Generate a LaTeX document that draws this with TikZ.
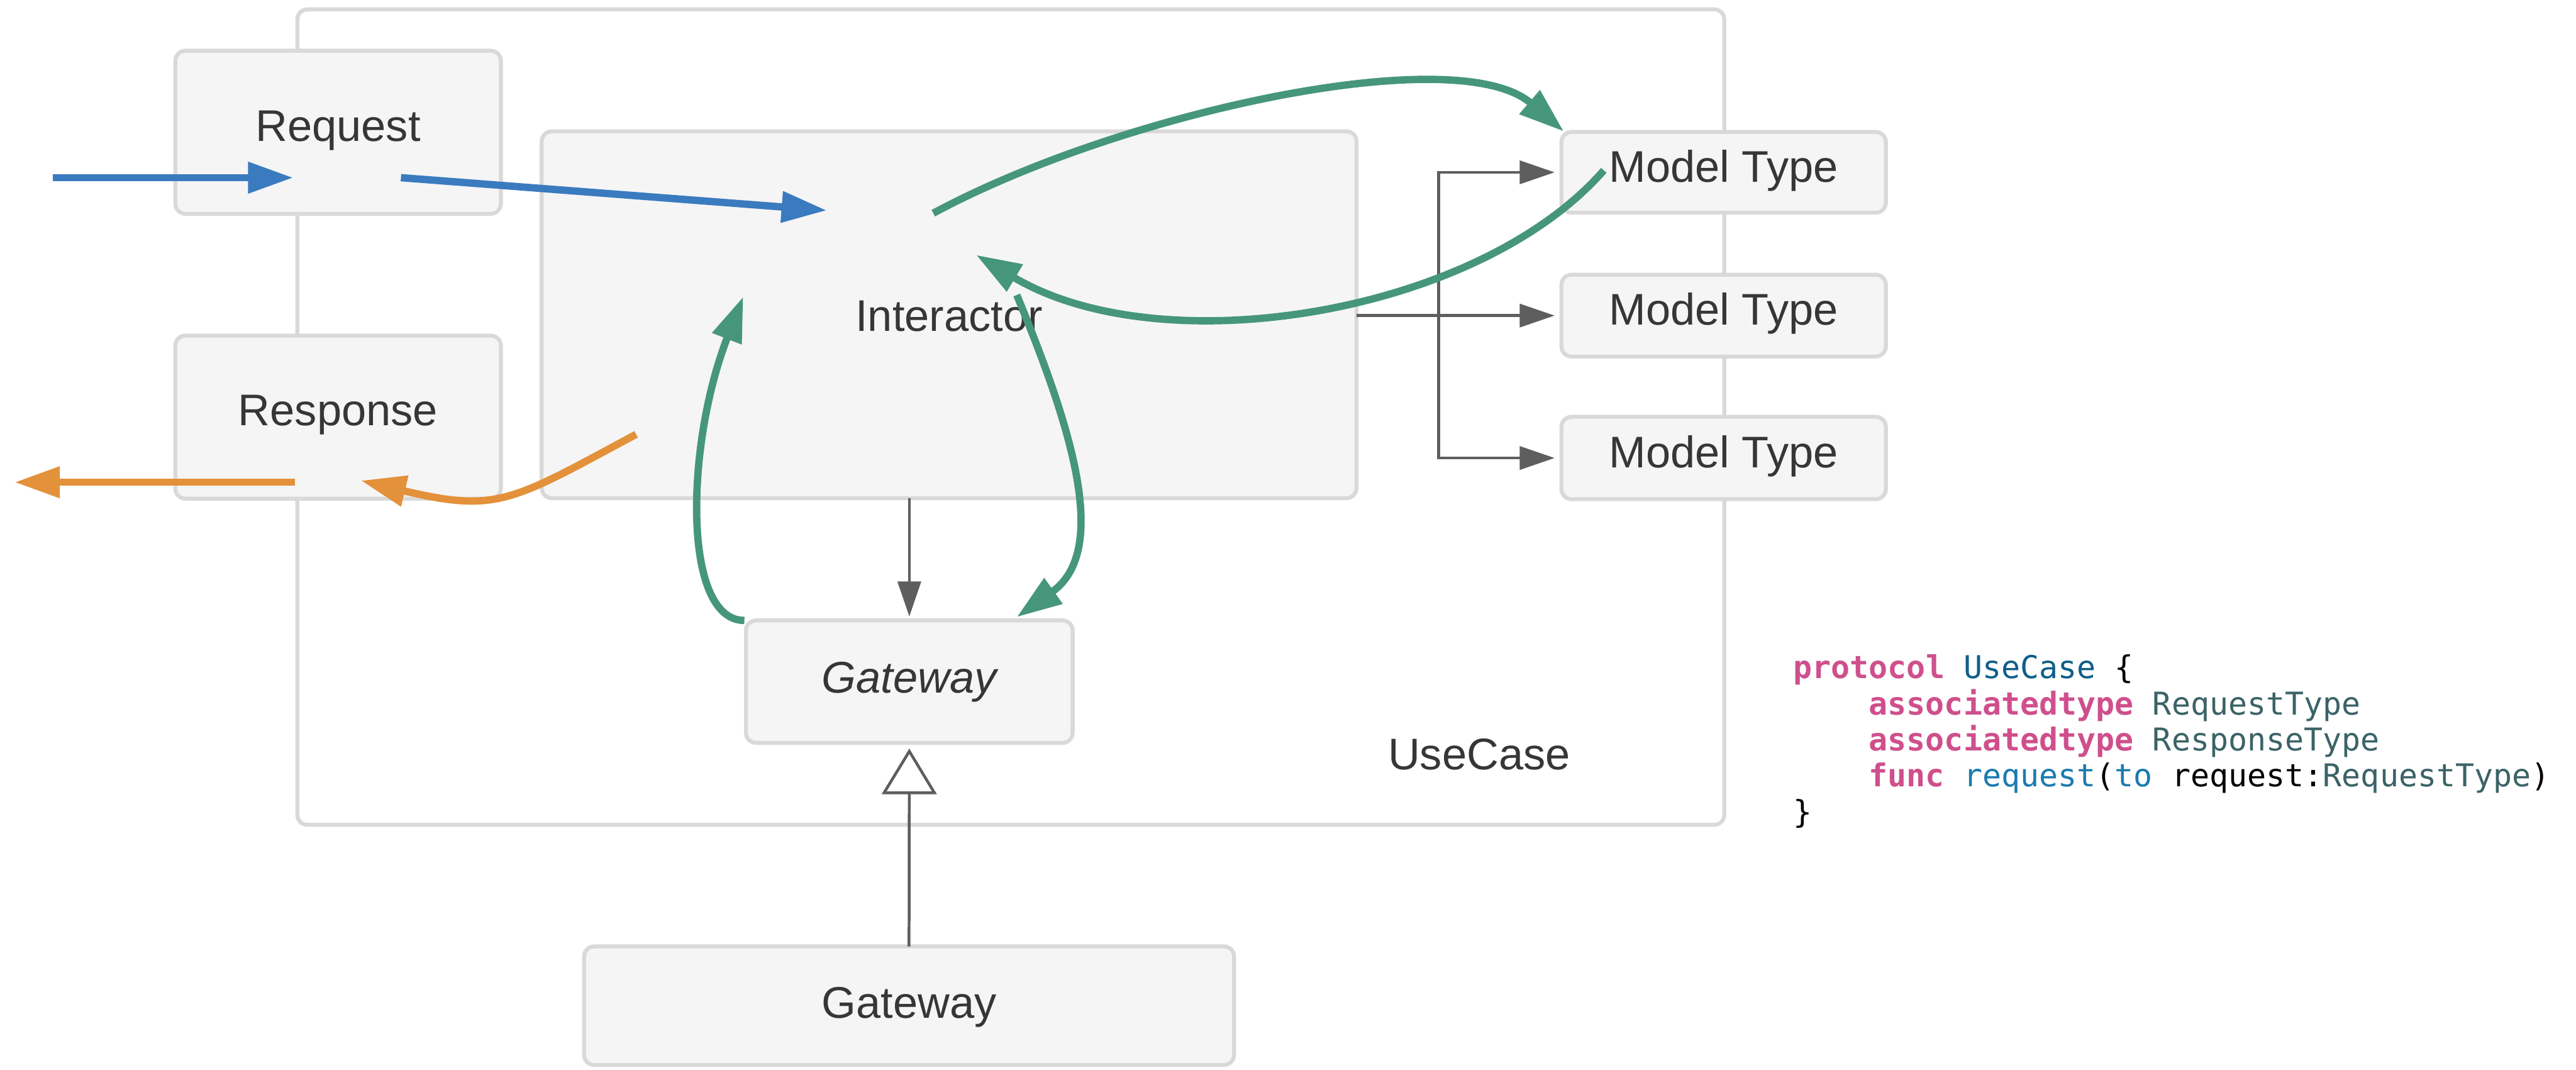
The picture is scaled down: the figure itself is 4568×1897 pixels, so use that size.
\documentclass[tikz,border=0pt]{standalone}
\usepackage{fontspec}
\setmainfont{Liberation Sans}
\newfontfamily\codefont{DejaVu Sans Mono}
\usetikzlibrary{arrows.meta}

\definecolor{boxfill}{HTML}{F5F5F5}
\definecolor{boxline}{HTML}{D9D9D9}
\definecolor{txt}{HTML}{363636}
\definecolor{flowblue}{HTML}{3A7BBF}
\definecolor{floworange}{HTML}{E3913A}
\definecolor{flowgreen}{HTML}{46967C}
\definecolor{linkgray}{HTML}{5E5E5E}
\definecolor{kwpink}{HTML}{CF4F8C}
\definecolor{protoblue}{HTML}{0F5E8A}
\definecolor{typeteal}{HTML}{3B6367}
\definecolor{funcblue}{HTML}{1B7BB0}

\begin{document}
\begin{tikzpicture}[
  x=0.01cm, y=-0.01cm,
  box/.style={draw=boxline, line width=0.07cm, fill=boxfill,
    rounded corners=0.18cm, inner sep=0pt, outer sep=0pt,
    text=txt, font=\fontsize{22.34}{26}\selectfont, text height=0.6cm},
  codeline/.style={anchor=base west, inner sep=0pt, outer sep=0pt,
    font=\codefont\fontsize{15.85}{18.2}\selectfont},
  thick flow/.style={line width=0.13cm,
    -{Triangle[length=0.8cm,width=0.53cm]}},
  bluearrow/.style={thick flow, draw=flowblue, color=flowblue},
  orangearrow/.style={thick flow, draw=floworange, color=floworange},
  greenarrow/.style={thick flow, draw=flowgreen, color=flowgreen},
  grayarrow/.style={line width=0.05cm, draw=linkgray, color=linkgray,
    -{Triangle[length=0.62cm,width=0.41cm]}},
  realizes/.style={line width=0.05cm, draw=linkgray, color=linkgray,
    -{Triangle[length=0.81cm,width=0.97cm,fill=white]}},
]
\useasboundingbox[fill=white] (0,0) rectangle (4568,1897);

% container
\node[box, fill=white, minimum width=25.29cm, minimum height=14.45cm] (usecase) at (1792.5,739.5) {};
\node[anchor=base, inner sep=0pt, text=txt, font=\fontsize{22.34}{26}\selectfont] (usecaselabel) at (2623,1365) {UseCase};

% boxes
\node[box, minimum width=5.77cm, minimum height=2.89cm, text depth=0.29cm] (request) at (599.5,234.5) {Request};
\node[box, minimum width=5.77cm, minimum height=2.89cm, text depth=0.29cm] (response) at (599.5,739.5) {Response};
\node[box, minimum width=14.44cm, minimum height=6.50cm, text depth=0.02cm] (interactor) at (1683,558) {Interactor};
\node[box, minimum width=5.75cm, minimum height=1.43cm, text depth=0.26cm] (mt1) at (3056.5,305.5) {Model Type};
\node[box, minimum width=5.75cm, minimum height=1.45cm, text depth=0.26cm] (mt2) at (3056.5,559.5) {Model Type};
\node[box, minimum width=5.75cm, minimum height=1.46cm, text depth=0.26cm] (mt3) at (3056.5,812) {Model Type};
\node[box, minimum width=5.79cm, minimum height=2.17cm, text depth=0.20cm, font=\fontsize{22.34}{26}\selectfont\itshape] (gwproto) at (1612.5,1208.5) {Gateway};
\node[box, minimum width=11.52cm, minimum height=2.10cm, text depth=0.16cm] (gateway) at (1612,1783) {Gateway};

% gray structural links
\draw[grayarrow, shorten >=0.07cm] (interactor.south -| gwproto.north) -- (gwproto.north);
\draw[grayarrow, shorten >=0.12cm] (interactor.east |- mt2.west) -- (mt2.west);
\coordinate (trunk) at (2551,559.5);
\draw[grayarrow, shorten >=0.12cm] (trunk |- mt2.west) -- (trunk |- mt1.west) -- (mt1.west);
\draw[grayarrow, shorten >=0.12cm] (trunk |- mt2.west) -- (trunk |- mt3.west) -- (mt3.west);
\draw[realizes, shorten >=0.1cm] (gateway.north) -- (gwproto.south);

% request flow
\coordinate (reqsrc) at (94,315);
\coordinate (reqin) at (520,315);
\coordinate (reqout) at (711,315);
\coordinate (intin) at (1466,373);
\draw[bluearrow] (reqsrc) -- (reqin);
\draw[bluearrow] (reqout) -- (intin);

% response flow
\coordinate (intout) at (1128,770);
\coordinate (respin) at (640,852);
\coordinate (respout) at (523,855);
\coordinate (respdst) at (26,855);
\draw[orangearrow] (intout) .. controls (908,888) and (883,910) .. (respin);
\draw[orangearrow] (respout) -- (respdst);

% interactor <-> model / gateway
\coordinate (toModelStart) at (1655,378);
\coordinate (toModelEnd) at (2773,233);
\coordinate (fromModelStart) at (2844,302);
\coordinate (fromModelEnd) at (1731,452);
\coordinate (fromGwStart) at (1320,1100);
\coordinate (fromGwEnd) at (1318,526);
\coordinate (toGwStart) at (1803,523);
\coordinate (toGwEnd) at (1803,1094);
\draw[greenarrow] (toModelStart) .. controls (1985,200) and (2583,70) .. (toModelEnd);
\draw[greenarrow] (fromModelStart) .. controls (2620,558) and (2060,648) .. (fromModelEnd);
\draw[greenarrow] (fromGwStart) .. controls (1210,1100) and (1215,790) .. (fromGwEnd);
\draw[greenarrow] (toGwStart) .. controls (1898,753) and (1970,975) .. (toGwEnd);

% protocol declaration
\node[codeline] (code1) at (3180,1203) {\textcolor{kwpink}{\bfseries protocol} \textcolor{protoblue}{UseCase} \{};
\node[codeline] (code2) at (3314,1267) {\textcolor{kwpink}{\bfseries associatedtype} \textcolor{typeteal}{RequestType}};
\node[codeline] (code3) at (3314,1331) {\textcolor{kwpink}{\bfseries associatedtype} \textcolor{typeteal}{ResponseType}};
\node[codeline] (code4) at (3314,1395) {\textcolor{kwpink}{\bfseries func} \textcolor{funcblue}{request}(\textcolor{funcblue}{to} request:\textcolor{typeteal}{RequestType})};
\node[codeline] (code5) at (3180,1459) {\}};
\end{tikzpicture}
\end{document}
